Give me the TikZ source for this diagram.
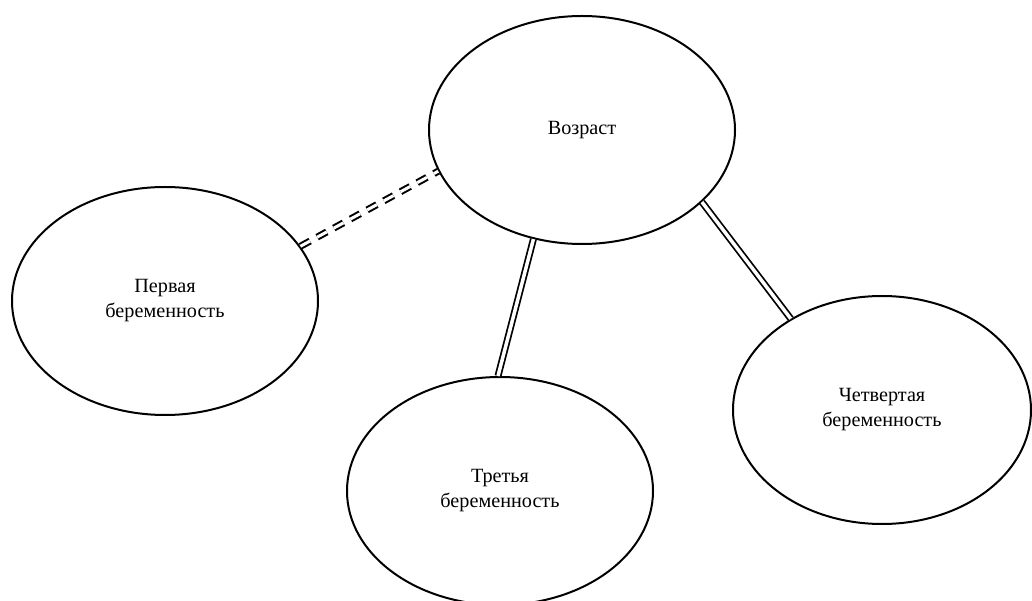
\documentclass[tikz,border=0pt]{standalone}
\usepackage{fontspec}
\setmainfont{Liberation Serif}
\usepackage{tikz}
\usetikzlibrary{shapes.geometric}

\begin{document}
\begin{tikzpicture}[every node/.style={ellipse,draw,minimum width=6.12cm,minimum height=4.56cm,align=center,font=\fontsize{11.5}{14.2}\selectfont}, line width=0.04cm]
    \useasboundingbox (0,0) rectangle (20.64,-12.02);

    \node (V) at (11.64,-2.60) {Возраст};
    \node (P) at (3.30,-6.02) {Первая\\беременность};
    \node (T) at (10.00,-9.82) {Третья\\беременность};
    \node[minimum width=5.96cm] (C) at (17.64,-8.20) {Четвертая\\беременность};

    \draw[line width=0.04cm, double, double distance=0.06cm, dash pattern=on 0.22cm off 0.16cm] (P.22) -- (V.196);
    \draw[line width=0.035cm, double, double distance=0.07cm] (V.246) -- (T.91);
    \draw[line width=0.035cm, double, double distance=0.07cm] (V.329) -- (C.135);
\end{tikzpicture}
\end{document}
